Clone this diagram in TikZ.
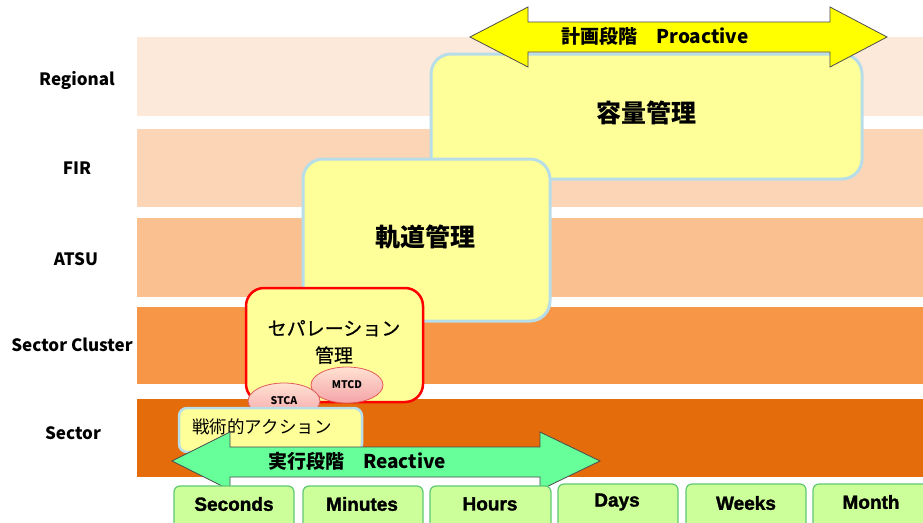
\documentclass[tikz,border=0pt]{standalone}
\usepackage{fontspec}
\setmainfont{Noto Sans CJK JP}
\newfontfamily\timefont[FakeBold=1.6]{Liberation Sans Bold}
\newfontfamily\medfont[FakeBold=0.6]{Noto Sans CJK JP}
\usetikzlibrary{shapes.geometric}
\definecolor{cRegional}{HTML}{FDE9DA}
\definecolor{cFIR}{HTML}{FBD5B5}
\definecolor{cATSU}{HTML}{FAC090}
\definecolor{cCluster}{HTML}{F79646}
\definecolor{cSector}{HTML}{E46C0A}
\definecolor{boxYellow}{HTML}{FFFF99}
\definecolor{boxBlue}{HTML}{B7DDE8}
\definecolor{timeFill}{HTML}{CCFF99}
\definecolor{timeLine}{HTML}{5FC872}
\definecolor{arrowYellow}{HTML}{FFFF00}
\definecolor{arrowGreen}{HTML}{66FF99}
\definecolor{ellTop}{HTML}{FFE2D2}
\definecolor{ellBottom}{HTML}{F5A3A8}
\definecolor{ellLine}{HTML}{E05A5A}
\tikzset{
  levellabel/.style={font=\bfseries\fontsize{17}{20}\selectfont, anchor=center},
  mgmtbox/.style={fill=boxYellow, draw=boxBlue, line width=3pt, rounded corners=20pt},
  sepbox/.style={fill=boxYellow, draw=red, line width=2.5pt, rounded corners=18pt},
  tacbox/.style={fill=boxYellow, draw=boxBlue, line width=2.5pt, rounded corners=8pt},
  timebox/.style={fill=timeFill, draw=timeLine, line width=1.2pt, rounded corners=6pt},
  timetext/.style={font=\timefont\fontsize{19}{22}\selectfont},
  ell/.style={ellipse, top color=ellTop, bottom color=ellBottom, draw=ellLine, line width=0.8pt, minimum width=72pt, minimum height=36pt, inner sep=0pt, font=\bfseries\fontsize{10.5}{12}\selectfont},
  bigarrow/.style={draw=black!70, line width=0.8pt, line join=miter},
}
\begin{document}
\begin{tikzpicture}[x=1pt,y=-1pt]
\clip (0,0) rectangle (923,522);
\fill[white] (0,0) rectangle (923,522);
% bands
\fill[cRegional] (137,37) rectangle (923,116);
\fill[cFIR] (137,129) rectangle (923,207);
\fill[cATSU] (137,218) rectangle (923,297);
\fill[cCluster] (137,307) rectangle (923,384);
\fill[cSector] (137,399) rectangle (923,477);
% level labels
\node[levellabel] (lRegional) at (77,80) {Regional};
\node[levellabel] (lFIR) at (77,168) {FIR};
\node[levellabel] (lATSU) at (76,259) {ATSU};
\node[levellabel] (lCluster) at (72,345) {Sector Cluster};
\node[levellabel] (lSector) at (73,433) {Sector};
% capacity management
\draw[mgmtbox] (431,54) rectangle (862,179);
\node[font=\bfseries\fontsize{25}{28}\selectfont] (cap) at (646,113) {容量管理};
% proactive arrow
\draw[bigarrow, fill=arrowYellow] (470,37) -- (528,7) -- (528,22) -- (830,22) -- (830,7) -- (887,37) -- (830,67) -- (830,52) -- (528,52) -- (528,67) -- cycle;
\node[font=\bfseries\fontsize{19}{22}\selectfont] (pro) at (655,36) {計画段階\hspace{1em}Proactive};
% trajectory management
\draw[mgmtbox] (303,159) rectangle (550,321);
\node[font=\bfseries\fontsize{25}{28}\selectfont] (traj) at (425,237) {軌道管理};
% separation management
\draw[sepbox] (246,288) rectangle (423,402);
\node[font=\medfont\fontsize{19}{27}\selectfont, align=center] (sep) at (334,342) {セパレーション\\管理};
% ellipses
\node[ell] (mtcd) at (347,385) {MTCD};
\node[ell] (stca) at (284,401) {STCA};
% tactical action
\draw[tacbox] (179,408) rectangle (362,452);
\node[font=\fontsize{17.5}{20}\selectfont] (tac) at (262,427) {戦術的アクション};
% reactive arrow
\draw[bigarrow, fill=arrowGreen] (172,461) -- (230,432) -- (230,447) -- (540,447) -- (540,432) -- (600,461) -- (540,490) -- (540,477) -- (230,477) -- (230,490) -- cycle;
\node[font=\bfseries\fontsize{19}{22}\selectfont] (rea) at (357,461) {実行段階\hspace{1em}Reactive};
% time scale boxes
\draw[timebox] (174,486) rectangle (294,535);
\node[timetext] (tSec) at (234,504) {Seconds};
\draw[timebox] (303,486) rectangle (423,535);
\node[timetext] (tMin) at (362,504) {Minutes};
\draw[timebox] (430,486) rectangle (551,535);
\node[timetext] (tHour) at (490,504) {Hours};
\draw[timebox] (558,484) rectangle (678,535);
\node[timetext] (tDay) at (617,502) {Days};
\draw[timebox] (686,484) rectangle (806,535);
\node[timetext] (tWeek) at (746,503) {Weeks};
\draw[timebox] (813,484) rectangle (933,535);
\node[timetext] (tMonth) at (871,502) {Month};
\end{tikzpicture}
\end{document}
